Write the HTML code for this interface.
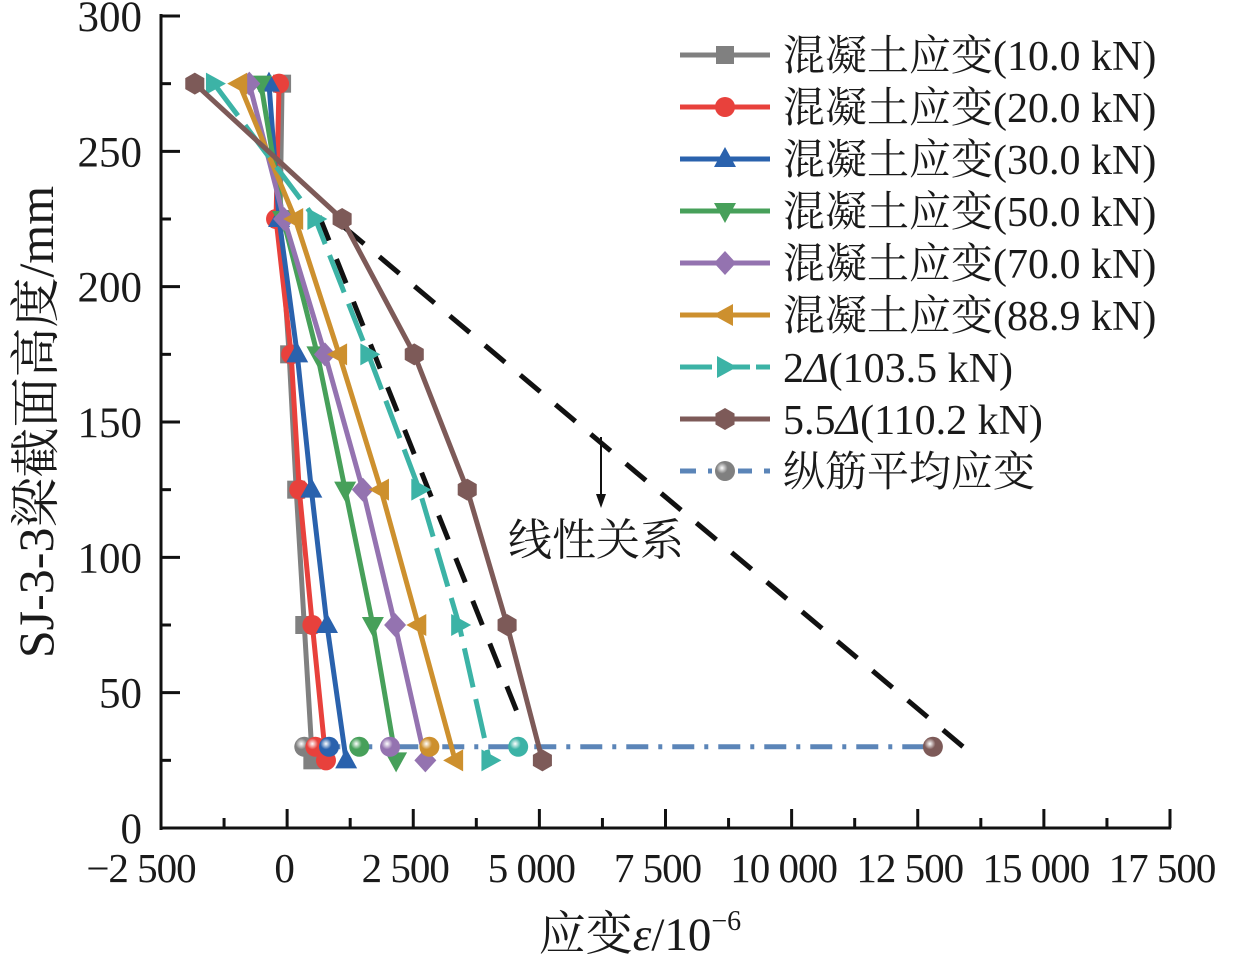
<!DOCTYPE html>
<html><head><meta charset="utf-8"><style>
body{margin:0;background:#fff}
svg{display:block}
text{font-family:"Liberation Serif","Noto Serif CJK SC",serif;fill:#1a1a1a}
</style></head><body>
<svg id="chart" width="1233" height="963" viewBox="0 0 1233 963" xmlns="http://www.w3.org/2000/svg">
<g id="plot"></g>
<g id="axes"></g>
<g id="legend"></g>
</svg>
<script>
const heights = [275, 225, 175, 125, 75, 25];
const seriesNames = ["混凝土应变(10.0 kN)","混凝土应变(20.0 kN)","混凝土应变(30.0 kN)","混凝土应变(50.0 kN)","混凝土应变(70.0 kN)","混凝土应变(88.9 kN)","2Δ(103.5 kN)","5.5Δ(110.2 kN)"];
const s10 = [-100, -140, 40, 180, 340, 500];
const s20 = [-160, -220, 80, 240, 500, 770];
const s30 = [-360, -160, 200, 480, 790, 1170];
const s50 = [-520, -80, 600, 1150, 1700, 2160];
const s70 = [-750, -60, 750, 1500, 2140, 2740];
const s89 = [-950, 160, 1030, 1860, 2600, 3330];
const s103 = [-1450, 560, 1610, 2620, 3410, 4010];
const s110 = [-1830, 1090, 2520, 3570, 4360, 5060];
const rebarHeight = 30;
const rebarValues = [340, 560, 830, 1430, 2040, 2820, 4580, 12800];
const linear1X = [640, 4640];
const linear1Y = [226, 39];
const linear2X = [1130, 13430];
const linear2Y = [222, 29.5];
const xTicks = [-2500, 0, 2500, 5000, 7500, 10000, 12500, 15000, 17500];
const xTickLabels = ["−2 500","0","2 500","5 000","7 500","10 000","12 500","15 000","17 500"];
const yTicks = [0, 50, 100, 150, 200, 250, 300];

const colors = ["#808080","#e8413c","#2a62ad","#47a05a","#9473b0","#cd902e","#3cb3a6","#7d5a58"];
const markers = ["square","circle","up","down","diamond","left","right","hex"];
const allSeries = [s10,s20,s30,s50,s70,s89,s103,s110];
const X0=161, X1=1170, Y0=828, Y1=16;
const xs = v => X0 + (v + 2500) / 20000 * (X1 - X0);
const ys = v => Y0 - v / 300 * (Y0 - Y1);
const NS = "http://www.w3.org/2000/svg";
function mk(tag, attrs, parent){const e=document.createElementNS(NS,tag);for(const k in attrs)e.setAttribute(k,attrs[k]);parent.appendChild(e);return e;}
function marker(type,x,y,c,parent){
  const r=10;let e;
  if(type==="square")e=mk("rect",{x:x-9,y:y-9,width:18,height:18,fill:c},parent);
  else if(type==="circle")e=mk("circle",{cx:x,cy:y,r:r,fill:c},parent);
  else{let p;
    if(type==="up")p=[[x,y-12],[x+11,y+8],[x-11,y+8]];
    if(type==="down")p=[[x,y+12],[x+11,y-8],[x-11,y-8]];
    if(type==="left")p=[[x-12,y],[x+8,y-11],[x+8,y+11]];
    if(type==="right")p=[[x+12,y],[x-8,y-11],[x-8,y+11]];
    if(type==="diamond")p=[[x,y-12],[x+11,y],[x,y+12],[x-11,y]];
    if(type==="hex")p=[0,1,2,3,4,5].map(i=>[x+11*Math.cos(Math.PI/6+i*Math.PI/3),y+11*Math.sin(Math.PI/6+i*Math.PI/3)]);
    e=mk("polygon",{points:p.map(q=>q.join(",")).join(" "),fill:c},parent);}
  return e;
}
const plot=document.getElementById("plot");
const defs=mk("defs",{},plot);
colors.forEach((c,i)=>{const g=mk("radialGradient",{id:"ball"+i,cx:"0.35",cy:"0.35",r:"0.7"},defs);
  mk("stop",{offset:"0","stop-color":"#fff"},g);mk("stop",{offset:"0.4","stop-color":c},g);mk("stop",{offset:"1","stop-color":c},g);});

[[linear1X,linear1Y],[linear2X,linear2Y]].forEach((L,i)=>{
  const l=mk("line",{x1:xs(L[0][0]),y1:ys(L[1][0]),x2:xs(L[0][1]),y2:ys(L[1][1]),stroke:"#111","stroke-width":5,"stroke-dasharray":"26 20"},plot);
  
  
});
const rl=mk("line",{x1:xs(rebarValues[0]),y1:ys(rebarHeight),x2:xs(rebarValues[7]),y2:ys(rebarHeight),stroke:"#5b85b8","stroke-width":5,"stroke-dasharray":"22 10 4 10"},plot);



allSeries.forEach((s,i)=>{
  const g=mk("g",{},plot);
  
  
  const pts=s.map((v,j)=>xs(v)+","+ys(heights[j])).join(" ");
  const attrs={points:pts,fill:"none",stroke:colors[i],"stroke-width":5,"stroke-linejoin":"round"};
  if(i===6)attrs["stroke-dasharray"]="40 12";
  mk("polyline",attrs,g);
  s.forEach((v,j)=>{const m=marker(markers[i],xs(v),ys(heights[j]),colors[i],g);
    
    });
});
rebarValues.forEach((v,i)=>{
  const c=mk("circle",{cx:xs(v),cy:ys(rebarHeight),r:10,fill:"url(#ball"+i+")"},plot);
  
  
});
const ar=mk("g",{},plot);


mk("line",{x1:601,y1:437,x2:601,y2:498,stroke:"#111","stroke-width":2},ar);
mk("polygon",{points:"596,494 606,494 601,508",fill:"#111"},ar);
const at=mk("text",{x:508,y:555,"font-size":44},plot);
at.textContent="线性关系";



const ax=document.getElementById("axes");
mk("line",{x1:X0,y1:Y1-2,x2:X0,y2:Y0+2,stroke:"#111","stroke-width":3},ax);
mk("line",{x1:X0-1,y1:Y0,x2:X1+1,y2:Y0,stroke:"#111","stroke-width":3},ax);
xTicks.forEach((v,i)=>{
  mk("line",{x1:xs(v),y1:Y0,x2:xs(v),y2:Y0-19,stroke:"#111","stroke-width":3},ax);
  if(i<xTicks.length-1)mk("line",{x1:xs(v+1250),y1:Y0,x2:xs(v+1250),y2:Y0-10,stroke:"#111","stroke-width":3},ax);
  const dx = i===0 ? -20 : (i===1 ? -3 : -8);
  const t=mk("text",{x:xs(v)+dx,y:882,"font-size":41,"text-anchor":"middle",transform:"",style:"letter-spacing:-1px"},ax);
  t.textContent=xTickLabels[i];
  
  
});
yTicks.forEach((v,i)=>{
  mk("line",{x1:X0,y1:ys(v),x2:X0+19,y2:ys(v),stroke:"#111","stroke-width":3},ax);
  if(i<yTicks.length-1)mk("line",{x1:X0,y1:ys(v+25),x2:X0+10,y2:ys(v+25),stroke:"#111","stroke-width":3},ax);
  const t=mk("text",{x:142,y:ys(v)+15,"font-size":43,"text-anchor":"end"},ax);
  t.textContent=v;
  
  
});
const xt=mk("text",{x:640,y:950,"font-size":47,"text-anchor":"middle"},ax);
xt.innerHTML='应变<tspan font-style="italic">ε</tspan>/10<tspan font-size="28" dy="-20">−6</tspan>';


const yt=mk("text",{x:0,y:0,"font-size":50,"text-anchor":"middle",transform:"translate(53,422) rotate(-90)"},ax);
yt.textContent="SJ-3-3梁截面高度/mm";



const lg=document.getElementById("legend");
const names=seriesNames.concat(["纵筋平均应变"]);
names.forEach((n,i)=>{
  const y=55+i*52;
  const g=mk("g",{},lg);
  
  
  if(i<8){
    const a={x1:680,y1:y,x2:770,y2:y,stroke:colors[i],"stroke-width":5};
    if(i===6)a["stroke-dasharray"]="32 6";
    mk("line",a,g);
    marker(markers[i],725,y,colors[i],g);
  }else{
    mk("line",{x1:680,y1:y,x2:770,y2:y,stroke:"#5b85b8","stroke-width":5,"stroke-dasharray":"16 12 0 0"},g);
    mk("rect",{x:712,y:y-12,width:26,height:24,fill:"#fff"},g);
    mk("circle",{cx:725,cy:y,r:10,fill:"url(#ball0)"},g);
  }
  const t=mk("text",{x:783,y:y+15,"font-size":42},g);
  if(n.indexOf("Δ")>=0){const p=n.split("Δ");t.innerHTML=p[0]+'<tspan font-style="italic">Δ</tspan>'+p[1];}
  else t.textContent=n;
});
</script>
</body></html>
